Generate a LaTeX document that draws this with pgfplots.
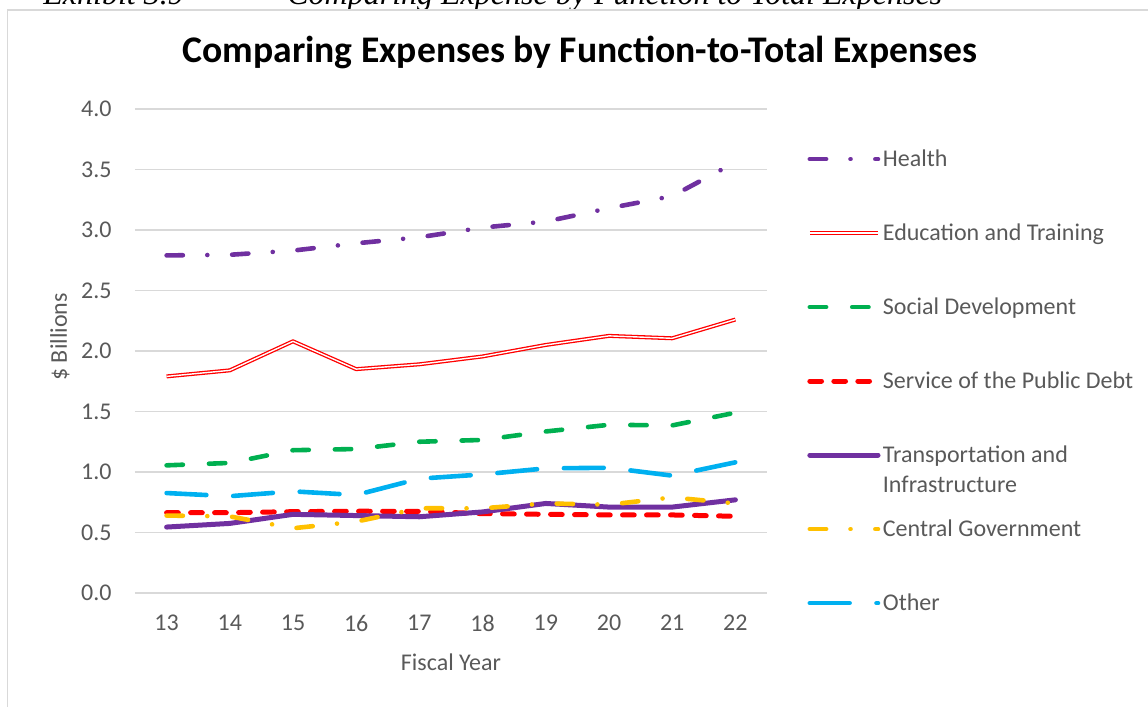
\documentclass[border=0pt]{standalone}
\usepackage{fontspec}
\setmainfont{Carlito}
\newfontfamily\capfont{Liberation Serif}
\usepackage{pgfplots}
\pgfplotsset{compat=1.18}
\definecolor{txt}{HTML}{595959}
\definecolor{grd}{HTML}{D9D9D9}
\definecolor{hpurple}{HTML}{7030A0}
\definecolor{sgreen}{HTML}{00B050}
\definecolor{cgold}{HTML}{FFC000}
\definecolor{oblue}{HTML}{00B0F0}
\definecolor{sred}{HTML}{FF0000}
\begin{document}
\begin{tikzpicture}
\useasboundingbox (0,0) rectangle (574pt,353.5pt);
\begin{scope}
\clip (0,0) rectangle (574pt,353.5pt);
\node[anchor=base west, inner sep=0pt] at (21.5pt,351pt) {\capfont\itshape\fontsize{16}{19}\selectfont Exhibit 3.9};
\node[anchor=base west, inner sep=0pt] at (143.5pt,351pt) {\capfont\itshape\fontsize{16}{19}\selectfont Comparing Expense by Function to Total Expenses};
\draw[color=grd, line width=0.8pt] (3.75pt,-20pt) rectangle (600pt,348.5pt);
\end{scope}
\node[anchor=base, inner sep=0pt] at (290pt,322pt) {\fontsize{18.8}{22}\selectfont\bfseries Comparing Expenses by Function-to-Total Expenses};
\begin{axis}[
  at={(67.5pt,57pt)}, anchor=south west,
  scale only axis, width=316pt, height=242pt,
  xmin=12.5, xmax=22.5, ymin=0, ymax=4,
  xtick={13,14,15,16,17,18,19,20,21,22},
  ytick={0,0.5,1,1.5,2,2.5,3,3.5,4},
  ymajorgrids, grid style={grd, line width=0.7pt},
  axis line style={draw=none}, major tick length=0pt,
  /pgf/number format/assume math mode=true,
  tick label style={font=\fontsize{12}{14}\selectfont, text=txt},
  yticklabel style={inner sep=0pt, anchor=east, xshift=-11.5pt,
     /pgf/number format/fixed, /pgf/number format/fixed zerofill, /pgf/number format/precision=1},
  xticklabel style={inner sep=0pt, anchor=north, yshift=-11pt},
  ylabel={\$ Billions},
  ylabel style={at={(axis description cs:-0.119,0.529)}, anchor=center, font=\fontsize{12}{14}\selectfont, text=txt},
  xlabel={Fiscal Year},
  xlabel style={at={(axis description cs:0.5,-0.1426)}, anchor=center, font=\fontsize{12}{14}\selectfont, text=txt},
  legend style={at={(axis description cs:1.060,0.911)}, anchor=north west, draw=none, fill=none,
     inner sep=0pt, outer sep=0pt, row sep=0pt, font=\fontsize{12}{15}\selectfont, text=txt,
     nodes={inner sep=0pt, text height=7pt, text depth=30pt},
     cells={anchor=base west},
     /tikz/every odd column/.append style={column sep=0pt}},
  legend image code/.code={\path (0pt,0pt) (36.5pt,0pt); \draw[#1] (1.2pt,3.5pt) -- (35.3pt,3.5pt);},
]
\addplot[hpurple, line width=2.3pt, line cap=round, line join=round,
  dash pattern=on 8.15pt off 12.2pt on 0.01pt off 12.4pt] coordinates {
  (13,2.79) (14,2.795) (15,2.83) (16,2.89) (17,2.94) (18,3.02) (19,3.07) (20,3.18) (21,3.28) (22,3.56)};
\addlegendentry{Health}
\addplot[sred, line width=0.65pt, double=white, double distance=0.7pt, line join=round] coordinates {
  (13,1.79) (14,1.84) (15,2.08) (16,1.85) (17,1.89) (18,1.955) (19,2.05) (20,2.125) (21,2.105) (22,2.26)};
\addlegendentry{Education and Training}
\addplot[sgreen, line width=2.3pt, line cap=round, line join=round,
  dash pattern=on 8.15pt off 13.05pt] coordinates {
  (13,1.055) (14,1.075) (15,1.18) (16,1.19) (17,1.25) (18,1.265) (19,1.335) (20,1.39) (21,1.385) (22,1.49)};
\addlegendentry{Social Development}
\addplot[sred, line width=2.5pt, line cap=round, line join=round,
  dash pattern=on 5.85pt off 6.15pt] coordinates {
  (13,0.664) (14,0.664) (15,0.672) (16,0.676) (17,0.674) (18,0.656) (19,0.65) (20,0.645) (21,0.645) (22,0.634)};
\addlegendentry{Service of the Public Debt}
\addplot[hpurple, line width=2.5pt, line cap=round, line join=round] coordinates {
  (13,0.545) (14,0.575) (15,0.65) (16,0.64) (17,0.63) (18,0.67) (19,0.74) (20,0.71) (21,0.71) (22,0.77)};
\addlegendentry{\begin{tabular}[t]{@{}l@{}}Transportation and\\Infrastructure\end{tabular}}
\addplot[cgold, line width=2.3pt, line cap=round, line join=round,
  dash pattern=on 8.15pt off 12.2pt on 0.01pt off 12.4pt] coordinates {
  (13,0.64) (14,0.633) (15,0.535) (16,0.59) (17,0.70) (18,0.70) (19,0.74) (20,0.73) (21,0.79) (22,0.74)};
\addlegendentry{Central Government}
\addplot[oblue, line width=2.3pt, line cap=round, line join=round,
  dash pattern=on 19.9pt off 13.45pt] coordinates {
  (13,0.826) (14,0.80) (15,0.84) (16,0.81) (17,0.945) (18,0.98) (19,1.03) (20,1.035) (21,0.97) (22,1.08)};
\addlegendentry{Other}
\end{axis}
\end{tikzpicture}
\end{document}
